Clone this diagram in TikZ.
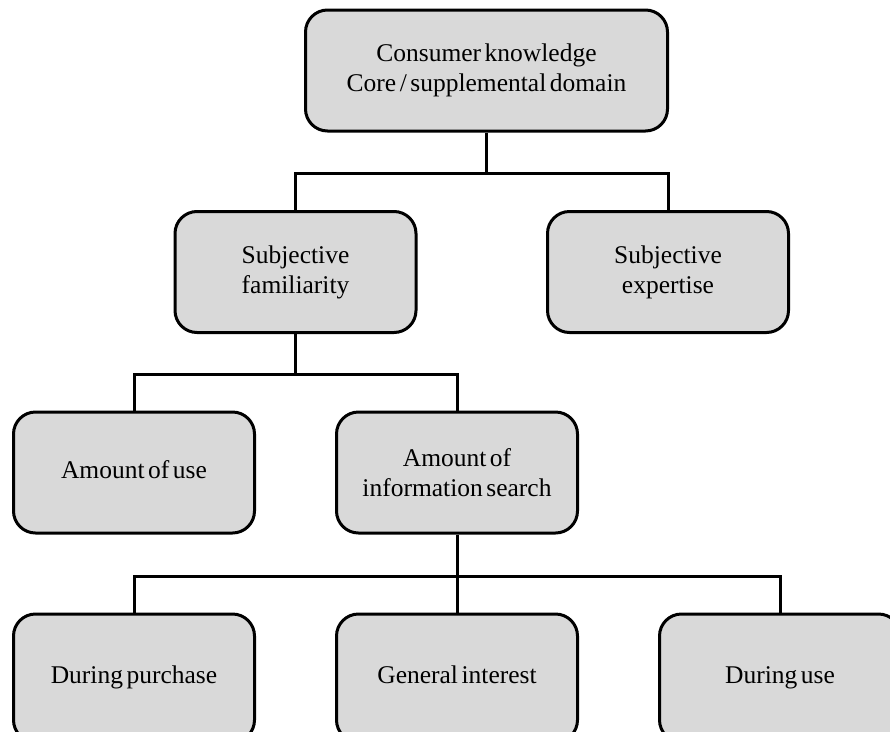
\documentclass[tikz,border=0pt]{standalone}
\usepackage{fontspec}
\setmainfont[WordSpace=0.55]{Liberation Serif}
\definecolor{boxgray}{RGB}{217,217,217}
\begin{document}
\begin{tikzpicture}[x=1pt,y=-1pt,
  box/.style={draw=black, fill=boxgray, line width=3pt, rounded corners=22pt,
    minimum width=241pt, minimum height=121pt, inner sep=0pt, align=center,
    font=\fontsize{25.5}{30}\selectfont},
  oneline/.style={text height=17pt, text depth=6pt},
  conn/.style={draw=black, line width=3pt}]
  \useasboundingbox (0,0) rectangle (890,731);
  \clip (0,0) rectangle (890,731);

  % concept tree
  \node[box, minimum width=362pt] (top) at (486.5,70.5) {Consumer knowledge\\Core / supplemental domain};
  \node[box] (sf) at (295.5,272) {Subjective\\familiarity};
  \node[box] (se) at (668,272) {Subjective\\expertise};
  \node[box, oneline] (aou) at (134,472.5) {Amount of use};
  \node[box] (ais) at (457,472.5) {Amount of\\information search};
  \node[box, oneline, minimum height=128pt] (dp) at (134,678) {During purchase};
  \node[box, oneline, minimum height=128pt] (gi) at (457,678) {General interest};
  \node[box, oneline, minimum height=128pt] (du) at (780,678) {During use};

  % elbow connectors through a shared bus line
  \draw[conn] (top.south) -- ++(0,41) coordinate (b1);
  \draw[conn] (b1) -| (sf.north);
  \draw[conn] (b1) -| (se.north);

  \draw[conn] (sf.south) -- ++(0,40) coordinate (b2);
  \draw[conn] (b2) -| (aou.north);
  \draw[conn] (b2) -| (ais.north);

  \draw[conn] (ais.south) -- ++(0,42) coordinate (b3);
  \draw[conn] (b3) -| (dp.north);
  \draw[conn] (b3) -| (gi.north);
  \draw[conn] (b3) -| (du.north);
\end{tikzpicture}
\end{document}
